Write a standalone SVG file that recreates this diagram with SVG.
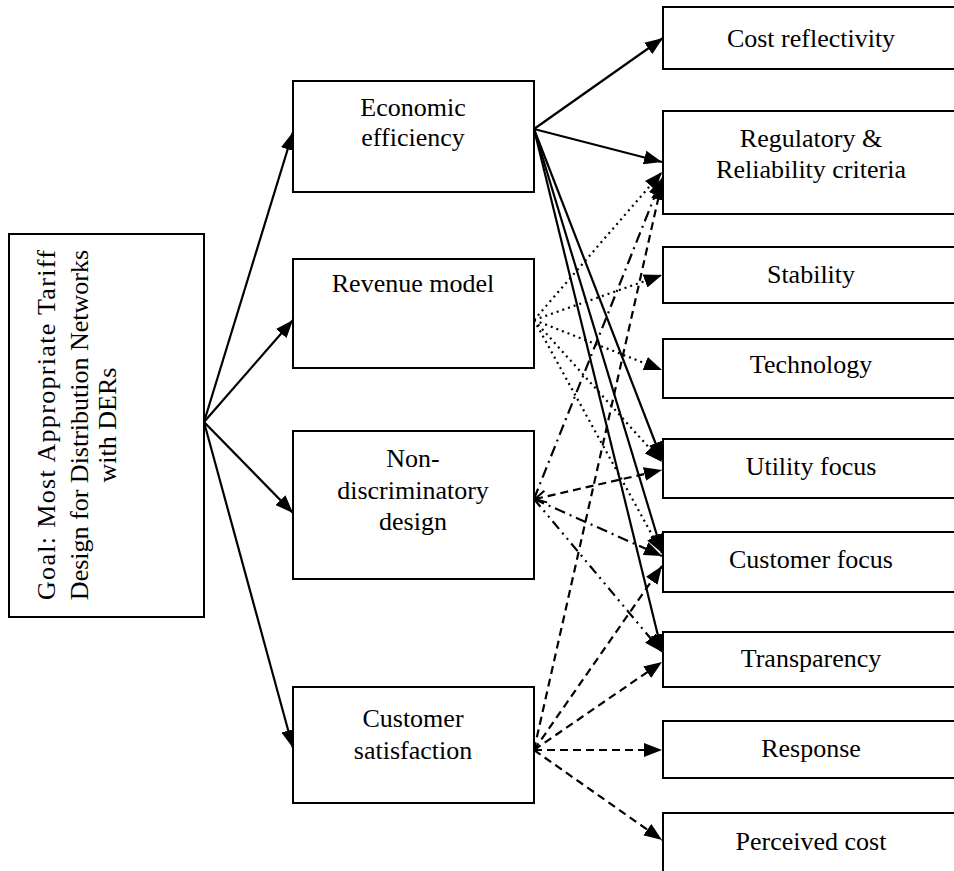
<svg xmlns="http://www.w3.org/2000/svg" width="954" height="871" viewBox="0 0 954 871">
<style>
.box{fill:#fff;stroke:#000;stroke-width:2}
.t{font-family:"Liberation Serif","Times New Roman",serif;font-size:26px;fill:#000;text-anchor:middle}
.c{fill:none;stroke:#000;stroke-width:2.2}
.dot{stroke-dasharray:2 4}
.dash{stroke-dasharray:8 5}
.dd{stroke-dasharray:11 5 2 5}
.ddd{stroke-dasharray:10 5 2 5 2 5}
</style>
<defs>
<marker id="ah" viewBox="0 0 18 14" refX="18" refY="7" markerWidth="18" markerHeight="14" markerUnits="userSpaceOnUse" orient="auto">
<path d="M0,0 L18,7 L0,14 z" fill="#000"/>
</marker>
<marker id="open" viewBox="0 0 14 14" refX="1" refY="7" markerWidth="14" markerHeight="14" markerUnits="userSpaceOnUse" orient="auto">
<path d="M12,1 L1,7 L12,13" fill="none" stroke="#000" stroke-width="2"/>
</marker>
</defs>
<rect width="954" height="871" fill="#fff"/>
<g id="connectors">
<g id="goal-links">
<line class="c" x1="204" y1="422" x2="293" y2="132" marker-end="url(#ah)"/>
<line class="c" x1="204" y1="422" x2="293" y2="320" marker-end="url(#ah)"/>
<line class="c" x1="204" y1="422" x2="293" y2="513" marker-end="url(#ah)"/>
<line class="c" x1="204" y1="422" x2="293" y2="748" marker-end="url(#ah)"/>
</g>
<g id="econ-links">
<line class="c" x1="534" y1="129" x2="663" y2="38" marker-end="url(#ah)"/>
<line class="c" x1="534" y1="129" x2="662" y2="162" marker-end="url(#ah)"/>
<line class="c" x1="534" y1="129" x2="662" y2="460" marker-end="url(#ah)"/>
<line class="c" x1="534" y1="129" x2="662" y2="552" marker-end="url(#ah)"/>
<line class="c" x1="534" y1="129" x2="662" y2="652" marker-end="url(#ah)"/>
</g>
<g id="revenue-links">
<line class="c dot" x1="534" y1="320" x2="662" y2="172" marker-end="url(#ah)"/>
<line class="c dot" x1="534" y1="320" x2="662" y2="275" marker-end="url(#ah)"/>
<line class="c dot" x1="534" y1="320" x2="662" y2="370" marker-end="url(#ah)"/>
<line class="c dot" x1="534" y1="320" x2="662" y2="462" marker-end="url(#ah)"/>
<line class="c dot" x1="534" y1="320" x2="662" y2="553" marker-end="url(#ah)"/>
</g>
<g id="nondisc-links">
<line class="c dd" x1="534" y1="499" x2="662" y2="178" marker-end="url(#ah)"/>
<line class="c dash" x1="535" y1="499" x2="662" y2="470" marker-start="url(#open)" marker-end="url(#ah)"/>
<line class="c dd" x1="534" y1="499" x2="662" y2="556" marker-end="url(#ah)"/>
<line class="c ddd" x1="534" y1="499" x2="662" y2="652" marker-end="url(#ah)"/>
</g>
<g id="custsat-links">
<line class="c dash" x1="534" y1="750" x2="662" y2="182" marker-end="url(#ah)"/>
<line class="c dash" x1="534" y1="750" x2="662" y2="566" marker-end="url(#ah)"/>
<line class="c dash" x1="534" y1="750" x2="662" y2="662" marker-end="url(#ah)"/>
<line class="c dash" x1="534" y1="750" x2="662" y2="750" marker-end="url(#ah)"/>
<line class="c dash" x1="534" y1="750" x2="662" y2="840" marker-end="url(#ah)"/>
</g>
</g>
<g id="goal">
<rect class="box" x="9" y="234" width="195" height="383"/>
<text class="t" transform="translate(55,425) rotate(-90)" textLength="350" lengthAdjust="spacing">Goal: Most Appropriate Tariff</text>
<text class="t" transform="translate(88,425) rotate(-90)">Design for Distribution Networks</text>
<text class="t" transform="translate(116,425) rotate(-90)">with DERs</text>
</g>
<g id="econ">
<rect class="box" x="293" y="81" width="241" height="111"/>
<text class="t" x="413" y="116">Economic</text>
<text class="t" x="413" y="146">efficiency</text>
</g>
<g id="revenue">
<rect class="box" x="293" y="259" width="241" height="109"/>
<text class="t" x="413" y="292">Revenue model</text>
</g>
<g id="nondisc">
<rect class="box" x="293" y="431" width="241" height="148"/>
<text class="t" x="413" y="467">Non-</text>
<text class="t" x="413" y="499">discriminatory</text>
<text class="t" x="413" y="530">design</text>
</g>
<g id="custsat">
<rect class="box" x="293" y="687" width="241" height="116"/>
<text class="t" x="413" y="727">Customer</text>
<text class="t" x="413" y="759">satisfaction</text>
</g>
<g id="cost">
<rect class="box" x="663" y="7" width="300" height="62"/>
<text class="t" x="811" y="47">Cost reflectivity</text>
</g>
<g id="regulatory">
<rect class="box" x="663" y="111" width="300" height="103"/>
<text class="t" x="811" y="147">Regulatory &amp;</text>
<text class="t" x="811" y="178">Reliability criteria</text>
</g>
<g id="stability">
<rect class="box" x="663" y="247" width="300" height="56"/>
<text class="t" x="811" y="283">Stability</text>
</g>
<g id="technology">
<rect class="box" x="663" y="339" width="300" height="59"/>
<text class="t" x="811" y="373">Technology</text>
</g>
<g id="utility">
<rect class="box" x="663" y="439" width="300" height="59"/>
<text class="t" x="811" y="475">Utility focus</text>
</g>
<g id="customer">
<rect class="box" x="663" y="532" width="300" height="60"/>
<text class="t" x="811" y="568">Customer focus</text>
</g>
<g id="transparency">
<rect class="box" x="663" y="632" width="300" height="55"/>
<text class="t" x="811" y="667">Transparency</text>
</g>
<g id="response">
<rect class="box" x="663" y="721" width="300" height="57"/>
<text class="t" x="811" y="757">Response</text>
</g>
<g id="perceived">
<rect class="box" x="663" y="813" width="300" height="70"/>
<text class="t" x="811" y="850">Perceived cost</text>
</g>
</svg>
